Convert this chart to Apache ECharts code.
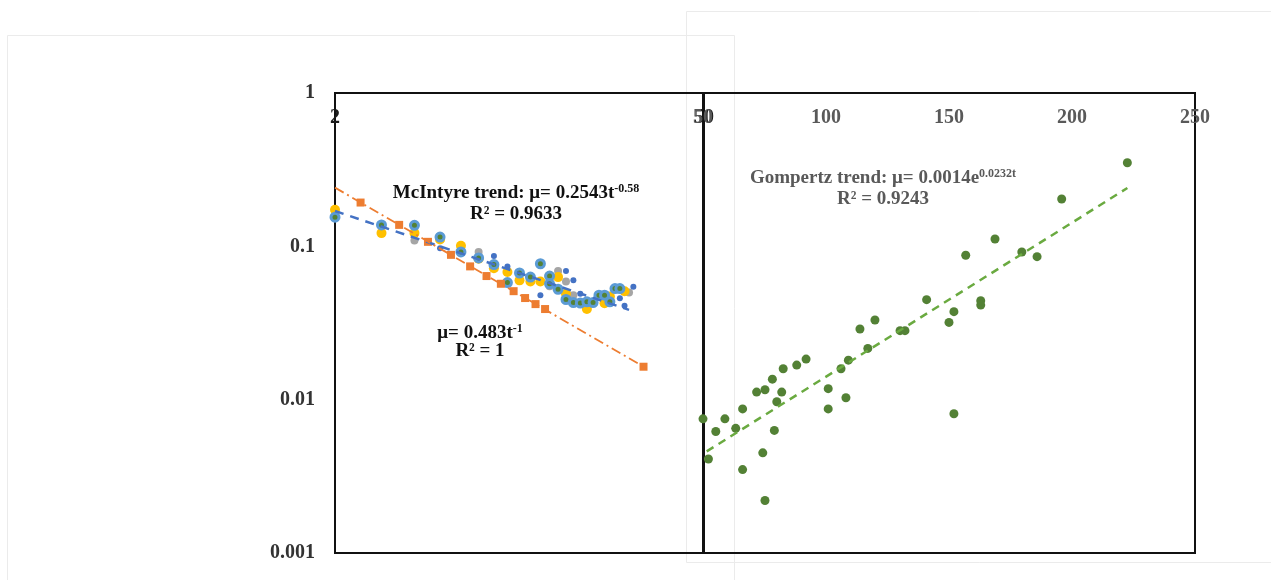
<!DOCTYPE html>
<html>
<head>
<meta charset="utf-8">
<script src="https://cdn.jsdelivr.net/npm/echarts@6/dist/echarts.min.js"></script>
<style>
html,body{margin:0;padding:0;background:#ffffff;}
#chart{width:1271px;height:580px;}
</style>
</head>
<body>
<div id="chart"></div>
<script>
// ---- tick labels ----
const yTickLabels = ['0.001', '0.01', '0.1', '1'];
const leftXTickLabels = ['2', '50'];
const rightXTickLabels = ['50', '100', '150', '200', '250'];

// ---- left panel (log-log) ----
const blueGreenT  = [2, 3, 4, 5, 6, 7, 8, 9, 10, 11, 12, 13, 13, 14, 15, 16, 17, 18, 19, 20, 21, 22, 23, 24];
const blueGreenMu = [0.155, 0.138, 0.137, 0.115, 0.092, 0.084, 0.076, 0.058, 0.067, 0.063, 0.077, 0.064, 0.057, 0.0525, 0.045, 0.043, 0.0427, 0.0435, 0.043, 0.048, 0.048, 0.0435, 0.053, 0.053];

const yellowT  = [2, 3, 4, 5, 6, 7, 8, 9, 10, 11, 12, 13, 14, 15, 18, 21, 22, 25];
const yellowMu = [0.173, 0.122, 0.122, 0.111, 0.101, 0.083, 0.072, 0.068, 0.060, 0.059, 0.059, 0.064, 0.063, 0.049, 0.039, 0.0425, 0.047, 0.051];

const grayT  = [4, 7, 9, 13, 14, 15, 16, 26];
const grayMu = [0.109, 0.092, 0.068, 0.055, 0.069, 0.059, 0.048, 0.050];

const darkBlueT  = [5, 8, 9, 12, 15, 16, 17, 24, 25, 27];
const darkBlueMu = [0.097, 0.0865, 0.074, 0.048, 0.069, 0.060, 0.049, 0.0458, 0.041, 0.0546];

const orangeT  = [2.5, 3.5, 4.5, 5.5, 6.5, 7.5, 8.5, 9.5, 10.5, 11.5, 12.5, 29.5];
const orangeMu = [0.193, 0.138, 0.107, 0.088, 0.074, 0.064, 0.057, 0.051, 0.046, 0.042, 0.039, 0.0164];

// trend line end points
const mcIntyreLineT  = [2, 26];
const mcIntyreLineMu = [0.170, 0.0385];
const powerLineT  = [2, 29.5];
const powerLineMu = [0.2415, 0.0164];

// ---- right panel (linear x, log y) ----
const greenT  = [50, 52.2, 55.2, 58.9, 63.3, 66.1, 66.1, 71.8, 74.3, 75.2, 75.2, 78.2, 79.0, 80.0, 82.0, 82.6, 88.1, 91.9, 100.9, 100.9, 106.1, 108.1, 109.1, 113.8, 117.0, 119.9, 130.1, 132.1, 140.9, 150.0, 152.0, 152.0, 156.8, 162.9, 162.9, 168.7, 179.6, 185.8, 195.8, 222.5];
const greenMu = [0.0075, 0.0041, 0.0062, 0.0075, 0.0065, 0.0087, 0.0035, 0.0112, 0.0045, 0.0116, 0.0022, 0.0136, 0.0063, 0.0097, 0.0112, 0.0159, 0.0168, 0.0184, 0.0118, 0.0087, 0.0159, 0.0103, 0.0181, 0.0289, 0.0216, 0.0331, 0.0282, 0.0282, 0.0449, 0.0319, 0.0375, 0.0081, 0.0874, 0.0442, 0.0414, 0.1116, 0.0918, 0.0856, 0.2036, 0.351];
const gompertzLineT  = [51.5, 222.5];
const gompertzLineMu = [0.0046, 0.240];

const zip = (a, b) => a.map((v, i) => [v, b[i]]);
const SERIF = "'Liberation Serif', 'DejaVu Serif', serif";

const chart = echarts.init(document.getElementById('chart'), null, { renderer: 'canvas' });

const yAxisBase = {
  type: 'log', logBase: 10, min: 0.001, max: 1,
  axisLine: { show: false }, axisTick: { show: false }, splitLine: { show: false }
};

const option = {
  animation: false,
  backgroundColor: '#ffffff',
  grid: [
    { left: 335, top: 93, width: 369, height: 460, show: true, borderColor: '#111111', borderWidth: 2, backgroundColor: 'transparent', containLabel: false },
    { left: 703, top: 93, width: 492, height: 460, show: true, borderColor: '#111111', borderWidth: 2, backgroundColor: 'transparent', containLabel: false }
  ],
  xAxis: [
    {
      gridIndex: 0, type: 'log', logBase: 10, min: 2, max: 50, position: 'top',
      axisLine: { show: false }, axisTick: { show: false }, splitLine: { show: false },
      axisLabel: {
        inside: true, margin: 15, showMinLabel: true, showMaxLabel: true,
        fontFamily: SERIF, fontWeight: 'bold', fontSize: 20, color: '#1a1a1a',
        formatter: v => (Math.abs(v - 2) < 0.05 ? leftXTickLabels[0] : (Math.abs(v - 50) < 0.5 ? leftXTickLabels[1] : ''))
      }
    },
    {
      gridIndex: 1, type: 'value', min: 50, max: 250, interval: 50, position: 'top',
      axisLine: { show: false }, axisTick: { show: false }, splitLine: { show: false },
      axisLabel: {
        inside: true, margin: 15, showMinLabel: true, showMaxLabel: true,
        fontFamily: SERIF, fontWeight: 'bold', fontSize: 20, color: '#595959',
        formatter: v => rightXTickLabels[Math.round((v - 50) / 50)]
      }
    }
  ],
  yAxis: [
    Object.assign({}, yAxisBase, {
      gridIndex: 0,
      axisLabel: {
        margin: 20, fontFamily: SERIF, fontWeight: 'bold', fontSize: 20, color: '#333333',
        showMinLabel: true, showMaxLabel: true,
        formatter: v => yTickLabels[Math.round(Math.log10(v)) + 3]
      }
    }),
    Object.assign({}, yAxisBase, { gridIndex: 1, axisLabel: { show: false } })
  ],
  series: [
    {
      name: 'gray', type: 'scatter', xAxisIndex: 0, yAxisIndex: 0, z: 2,
      symbol: 'circle', symbolSize: 8, itemStyle: { color: '#A5A5A5', opacity: 1 },
      data: zip(grayT, grayMu)
    },
    {
      name: 'yellow', type: 'scatter', xAxisIndex: 0, yAxisIndex: 0, z: 3,
      symbol: 'circle', symbolSize: 10, itemStyle: { color: '#FFC000', opacity: 1 },
      data: zip(yellowT, yellowMu)
    },
    {
      name: 'blueGreen', type: 'scatter', xAxisIndex: 0, yAxisIndex: 0, z: 4,
      symbol: 'circle', symbolSize: 8,
      itemStyle: { color: '#548235', borderColor: '#5B9BD5', borderWidth: 3, opacity: 1 },
      data: zip(blueGreenT, blueGreenMu)
    },
    {
      name: 'darkBlue', type: 'scatter', xAxisIndex: 0, yAxisIndex: 0, z: 5,
      symbol: 'circle', symbolSize: 6, itemStyle: { color: '#4472C4', opacity: 1 },
      data: zip(darkBlueT, darkBlueMu)
    },
    {
      name: 'orange', type: 'scatter', xAxisIndex: 0, yAxisIndex: 0, z: 5,
      symbol: 'rect', symbolSize: 8, itemStyle: { color: '#ED7D31', opacity: 1 },
      data: zip(orangeT, orangeMu)
    },
    {
      name: 'mcIntyreTrend', type: 'line', xAxisIndex: 0, yAxisIndex: 0, z: 6,
      showSymbol: false, symbol: 'none',
      lineStyle: { color: '#4472C4', width: 2.5, type: [9, 7] },
      data: zip(mcIntyreLineT, mcIntyreLineMu)
    },
    {
      name: 'powerTrend', type: 'line', xAxisIndex: 0, yAxisIndex: 0, z: 6,
      showSymbol: false, symbol: 'none',
      lineStyle: { color: '#ED7D31', width: 1.8, type: [10, 4, 2, 4] },
      data: zip(powerLineT, powerLineMu)
    },
    {
      name: 'green', type: 'scatter', xAxisIndex: 1, yAxisIndex: 1, z: 3, clip: false,
      symbol: 'circle', symbolSize: 9, itemStyle: { color: '#538135', opacity: 1 },
      data: zip(greenT, greenMu)
    },
    {
      name: 'gompertzTrend', type: 'line', xAxisIndex: 1, yAxisIndex: 1, z: 4,
      showSymbol: false, symbol: 'none',
      lineStyle: { color: '#6AAA40', width: 2.5, type: [8, 6] },
      data: zip(gompertzLineT, gompertzLineMu)
    }
  ],
  graphic: [
    { type: 'rect', z: -10, silent: true, shape: { x: 7.5, y: 35.5, width: 727, height: 560 }, style: { fill: 'none', stroke: '#ebebeb', lineWidth: 1 } },
    { type: 'rect', z: -10, silent: true, shape: { x: 686.5, y: 11.5, width: 600, height: 551 }, style: { fill: 'none', stroke: '#ebebeb', lineWidth: 1 } },
    {
      type: 'text', z: 100, x: 516, y: 193,
      style: {
        text: '{b|McIntyre trend: μ= 0.2543t}{s|-0.58}', align: 'center', verticalAlign: 'middle',
        rich: {
          b: { fontFamily: SERIF, fontWeight: 'bold', fontSize: 19, fill: '#111111' },
          s: { fontFamily: SERIF, fontWeight: 'bold', fontSize: 12, fill: '#111111', padding: [0, 0, 9, 0] }
        }
      }
    },
    {
      type: 'text', z: 100, x: 516, y: 214,
      style: { text: 'R² = 0.9633', align: 'center', verticalAlign: 'middle', fontFamily: SERIF, fontWeight: 'bold', fontSize: 19, fill: '#111111' }
    },
    {
      type: 'text', z: 100, x: 480, y: 333,
      style: {
        text: '{b|μ= 0.483t}{s|-1}', align: 'center', verticalAlign: 'middle',
        rich: {
          b: { fontFamily: SERIF, fontWeight: 'bold', fontSize: 19, fill: '#111111' },
          s: { fontFamily: SERIF, fontWeight: 'bold', fontSize: 12, fill: '#111111', padding: [0, 0, 9, 0] }
        }
      }
    },
    {
      type: 'text', z: 100, x: 480, y: 351,
      style: { text: 'R² = 1', align: 'center', verticalAlign: 'middle', fontFamily: SERIF, fontWeight: 'bold', fontSize: 19, fill: '#111111' }
    },
    {
      type: 'text', z: 100, x: 883, y: 178,
      style: {
        text: '{b|Gompertz trend: μ= 0.0014e}{s|0.0232t}', align: 'center', verticalAlign: 'middle',
        rich: {
          b: { fontFamily: SERIF, fontWeight: 'bold', fontSize: 19, fill: '#595959' },
          s: { fontFamily: SERIF, fontWeight: 'bold', fontSize: 12, fill: '#595959', padding: [0, 0, 9, 0] }
        }
      }
    },
    {
      type: 'text', z: 100, x: 883, y: 199,
      style: { text: 'R² = 0.9243', align: 'center', verticalAlign: 'middle', fontFamily: SERIF, fontWeight: 'bold', fontSize: 19, fill: '#595959' }
    }
  ]
};

chart.setOption(option);
</script>
</body>
</html>
